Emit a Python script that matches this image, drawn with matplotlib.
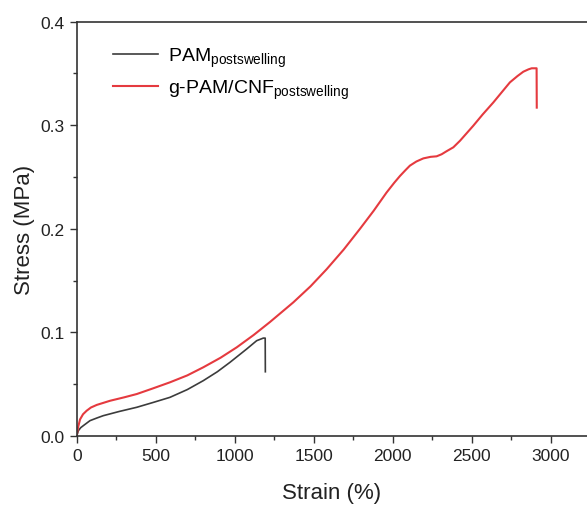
import matplotlib.pyplot as plt
from matplotlib.ticker import MultipleLocator

plt.rcParams['font.family'] = ['Liberation Sans', 'DejaVu Sans']
plt.rcParams['mathtext.fontset'] = 'custom'
plt.rcParams['mathtext.rm'] = 'Liberation Sans'

# PAM postswelling (black)
pam_strain = [0, 10, 25, 42, 84, 130, 168, 270, 380, 480, 590, 700, 801, 890, 970, 1076, 1139, 1181, 1193, 1194]
pam_stress = [0.0, 0.005, 0.008, 0.010, 0.0148, 0.0175, 0.0196, 0.0237, 0.0277, 0.0322, 0.0373, 0.0448,
              0.0534, 0.0620, 0.0711, 0.084, 0.092, 0.0945, 0.0945, 0.062]

# g-PAM/CNF postswelling (red)
cnf_strain = [0, 8, 21, 40, 63, 90, 127, 211, 300, 380, 480, 590, 700, 801, 910, 1013, 1120, 1223,
              1371, 1480, 1582, 1690, 1793, 1880, 1961, 2010, 2046, 2080, 2109, 2150, 2194, 2240,
              2278, 2310, 2342, 2384, 2426, 2510, 2570, 2637, 2690, 2742, 2790, 2827, 2860, 2880,
              2911, 2912]
cnf_stress = [0.0, 0.008, 0.016, 0.021, 0.0244, 0.0275, 0.030, 0.034, 0.0373, 0.0405, 0.0458, 0.0518,
              0.0585, 0.0663, 0.0755, 0.0856, 0.0975, 0.110, 0.129, 0.1445, 0.161, 0.1800, 0.200,
              0.2175, 0.235, 0.2445, 0.251, 0.2565, 0.261, 0.2650, 0.268, 0.2695, 0.270, 0.2720,
              0.275, 0.2787, 0.285, 0.2995, 0.3105, 0.322, 0.3318, 0.3414, 0.3475, 0.3517, 0.3540,
              0.355, 0.355, 0.317]

fig = plt.figure(figsize=(5.87, 5.06), dpi=100)
ax = fig.add_axes([0.1307, 0.1364, 0.8693, 0.8188])

ax.plot(pam_strain, pam_stress, color='#3c3c3c', lw=1.2,
        label=r'PAM$_{\mathregular{postswelling}}$')
ax.plot(cnf_strain, cnf_stress, color='#e53a3f', lw=1.5,
        label=r'g-PAM/CNF$_{\mathregular{postswelling}}$')

ax.set_xlim(0, 3230)
ax.set_ylim(0, 0.4)
ax.xaxis.set_major_locator(MultipleLocator(500))
ax.xaxis.set_minor_locator(MultipleLocator(250))
ax.yaxis.set_major_locator(MultipleLocator(0.1))
ax.yaxis.set_minor_locator(MultipleLocator(0.05))
ax.yaxis.set_major_formatter(plt.FuncFormatter(lambda v, p: f'{v:.1f}'))
ax.tick_params(which='major', length=5, width=1, labelsize=12.5, color='#333333', labelcolor='#222222')
ax.tick_params(which='minor', length=3, width=1, color='#333333')
ax.spines['right'].set_visible(False)
for s in ['left', 'bottom', 'top']:
    ax.spines[s].set_linewidth(1.2)
    ax.spines[s].set_color('#333333')

ax.set_xlabel('Strain (%)', fontsize=16, color='#222222', labelpad=14)
ax.set_ylabel('Stress (MPa)', fontsize=16, color='#222222', labelpad=4)

ax.legend(loc='upper left', bbox_to_anchor=(0.037, 0.985), frameon=False, fontsize=14,
          handlelength=2.3, handletextpad=0.5, labelspacing=0.45)

fig.savefig('out.png', dpi=100)
